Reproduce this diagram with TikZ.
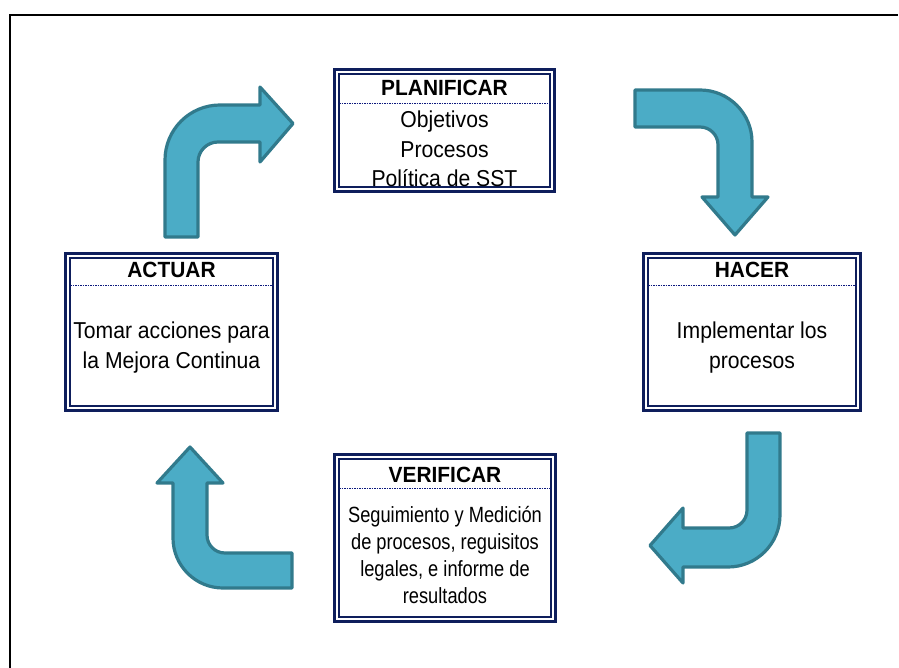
\documentclass[tikz,border=0pt]{standalone}
\usepackage{fontspec}
\setmainfont{Liberation Sans}
\newfontfamily\titlef{Liberation Sans}[FakeStretch=0.95]
\newfontfamily\bodyf{Liberation Sans}[FakeStretch=0.92]
\newfontfamily\narrowf{Liberation Sans}[FakeStretch=0.83]
\definecolor{navy}{RGB}{14,30,92}
\definecolor{arrfill}{HTML}{4BACC6}
\definecolor{arrline}{HTML}{317A8C}
\begin{document}
\begin{tikzpicture}[x=1pt,y=-1pt,
  box/.style={draw=navy, line width=3pt, inner sep=0pt, outer sep=0pt, fill=white},
  innerline/.style={draw=navy, line width=1.4pt},
  hdr/.style={draw=navy!80!blue, line width=0.9pt, dash pattern=on 1.5pt off 1pt},
  ttl/.style={font=\titlef\bfseries\fontsize{22}{25}\selectfont, inner sep=0pt},
  body/.style={font=\bodyf\fontsize{23}{29.5}\selectfont, align=center, inner sep=0pt},
  nbody/.style={font=\narrowf\fontsize{22}{26.7}\selectfont, align=center, inner sep=0pt},
  bigarrow/.style={fill=arrfill, draw=arrline, line width=3.2pt, line join=round}]
\useasboundingbox (0,0) rectangle (899,668);
% outer frame
\draw[line width=2.4pt, black] (10,668) -- (10,15) -- (898,15);

% boxes
\node[box, minimum width=220pt, minimum height=122pt] (plan) at (444.5,130.5) {};
\node[box, minimum width=212pt, minimum height=157pt] (act) at (171.5,332) {};
\node[box, minimum width=217pt, minimum height=157pt] (hac) at (752,332) {};
\node[box, minimum width=221pt, minimum height=167pt] (ver) at (445,538) {};

\foreach \b/\h in {plan/34, act/32, hac/32, ver/34}{
  \draw[innerline] ([shift={(4.5,4.5)}]\b.north west) rectangle ([shift={(-4.5,-4.5)}]\b.south east);
  \draw[hdr] ([shift={(4.5,\h)}]\b.north west) -- ([shift={(-4.5,\h)}]\b.north east);
}

% texts
\node[ttl] (planT) at (444.5,88) {PLANIFICAR};
\node[body] (planB) at (444.5,149) {Objetivos\\Procesos\\Política de SST};
\node[ttl] (actT) at (171.5,270) {ACTUAR};
\node[body] (actB) at (171.5,347.5) {Tomar acciones para\\la Mejora Continua};
\node[ttl] (hacT) at (752,270) {HACER};
\node[body] (hacB) at (752,347.5) {Implementar los\\procesos};
\node[ttl] (verT) at (445,475) {VERIFICAR};
\node[nbody] (verB) at (445,555) {Seguimiento y Medición\\de procesos, reguisitos\\legales, e informe de\\resultados};

% arrows
% top-left (up then right)
\draw[bigarrow] (165,237) -- (165,160) .. controls (165,129.6) and (189.6,105) .. (220,105)
  -- (260,105) -- (260,87) -- (293,123.5) -- (260,162) -- (260,142) -- (218,142)
  .. controls (207,142) and (198,151) .. (198,162) -- (198,237) -- cycle;
% top-right (right then down)
\draw[bigarrow] (635,90) -- (700,90) .. controls (728.7,90) and (752,113.3) .. (752,142)
  -- (752,197) -- (768,197) -- (735,235) -- (702,197) -- (718,197) -- (718,145)
  .. controls (718,135) and (710,127) .. (700,127) -- (635,127) -- cycle;
% bottom-right (down then left)
\draw[bigarrow] (747,433) -- (780,433) -- (780,515) .. controls (780,543.7) and (756.7,567) .. (728,567)
  -- (683,567) -- (683,583) -- (650,545.5) -- (683,508) -- (683,528) -- (729,528)
  .. controls (739,528) and (747,520) .. (747,510) -- cycle;
% bottom-left (left then up)
\draw[bigarrow] (292,553) -- (292,588) -- (223,588) .. controls (195.4,588) and (173,565.6) .. (173,538)
  -- (173,483) -- (157,483) -- (190,447) -- (223,483) -- (207,483) -- (207,535)
  .. controls (207,545) and (215,553) .. (225,553) -- cycle;
\end{tikzpicture}
\end{document}
